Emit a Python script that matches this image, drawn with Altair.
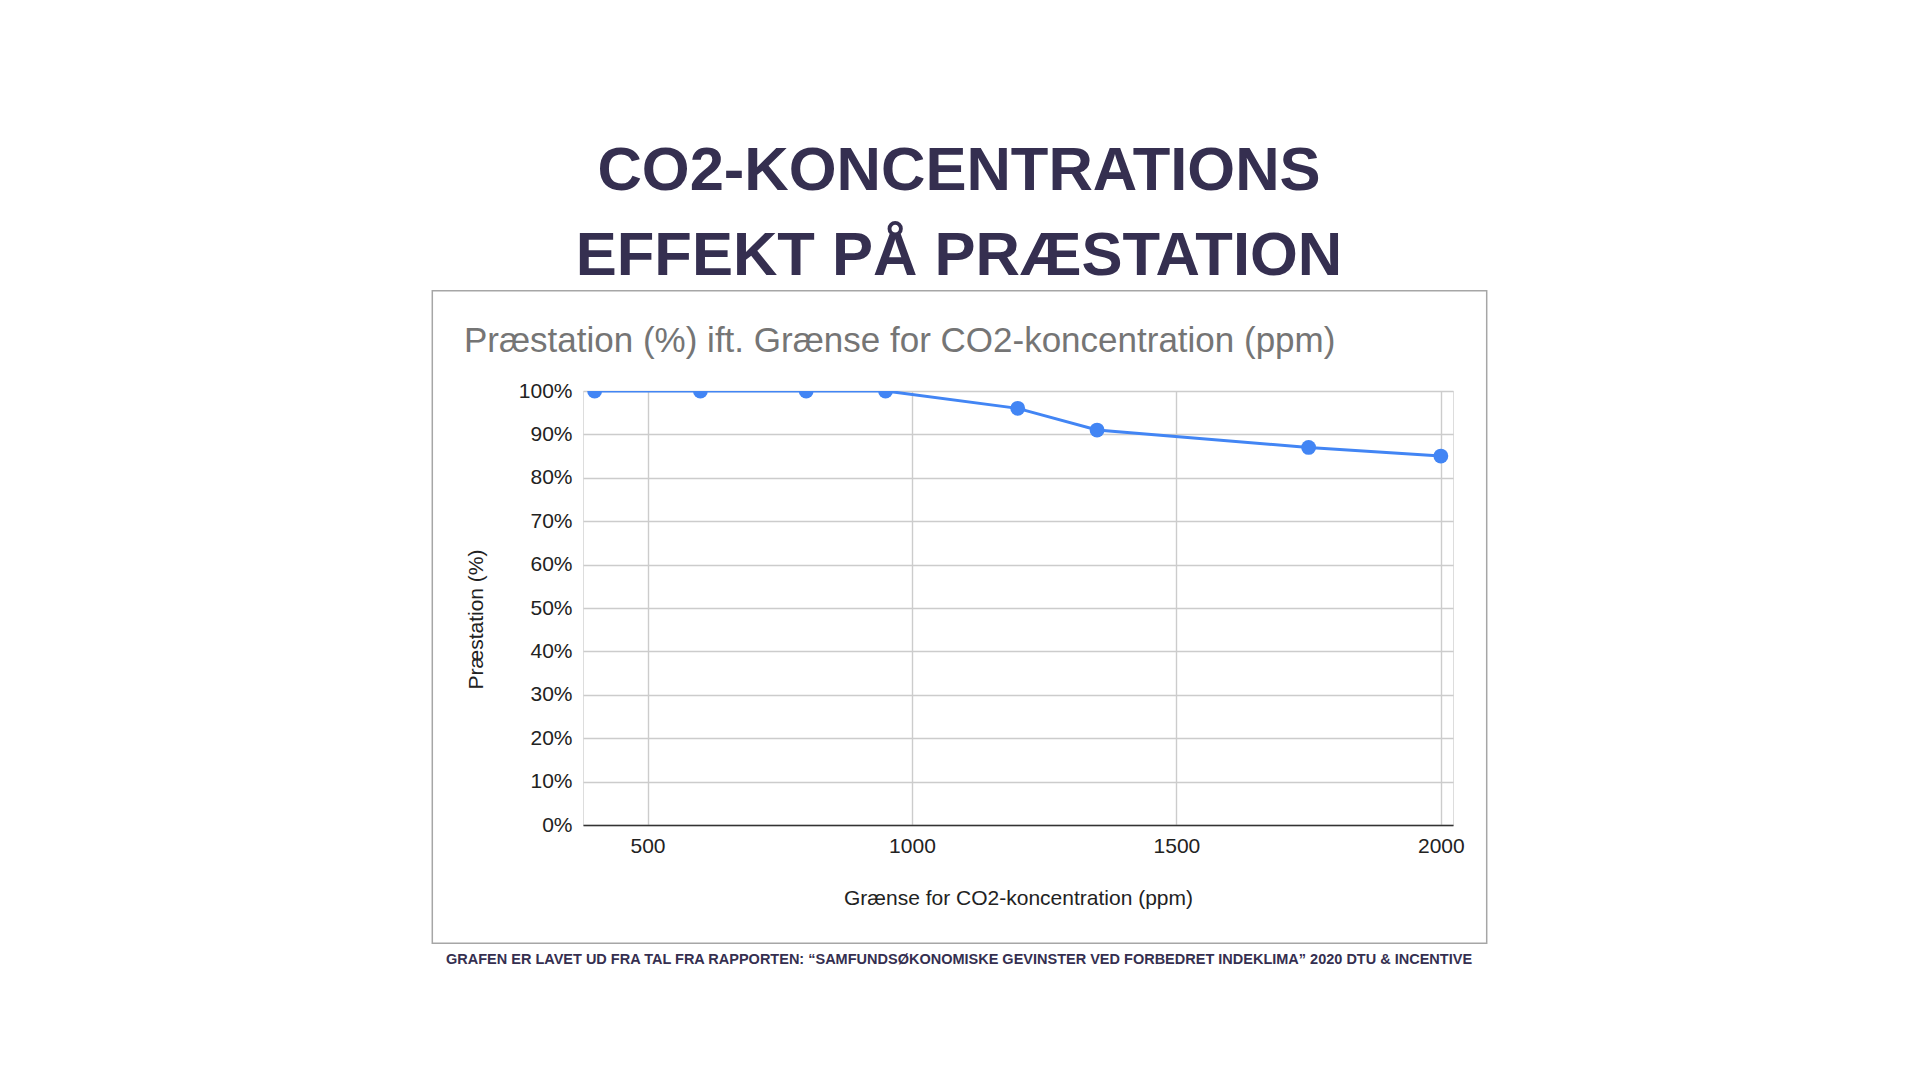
import altair as alt
import pandas as pd

# ---- data ----
co2_ppm = [400, 600, 800, 950, 1200, 1350, 1750, 2000]
performance = [1.00, 1.00, 1.00, 1.00, 0.96, 0.91, 0.87, 0.85]
x_ticks = [500, 1000, 1500, 2000]
y_ticks = [0.0, 0.1, 0.2, 0.3, 0.4, 0.5, 0.6, 0.7, 0.8, 0.9, 1.0]

title_lines = ["CO2-KONCENTRATIONS", "EFFEKT PÅ PRÆSTATION"]
chart_title = ["Præstation (%) ift. Grænse for CO2-koncentration (ppm)"]
x_title = "Grænse for CO2-koncentration (ppm)"
y_title = "Præstation (%)"
footer = ["GRAFEN ER LAVET UD FRA TAL FRA RAPPORTEN: \u201cSAMFUNDSØKONOMISKE GEVINSTER VED FORBEDRET INDEKLIMA\u201d 2020 DTU & INCENTIVE"]

df = pd.DataFrame({"ppm": co2_ppm, "perf": performance})

FONT = "Liberation Sans"
NAVY = "#352f50"
BLUE = "#4285F4"

x_enc = alt.X(
    "ppm:Q",
    scale=alt.Scale(domain=[378, 2023], nice=False, zero=False),
    axis=alt.Axis(
        values=x_ticks, format="d", title=x_title,
        labelFontSize=21, labelColor="#222222", labelFont=FONT,
        tickSize=0, labelPadding=10,
        titleFontSize=21, titleFont=FONT, titleFontWeight="normal",
        titleColor="#222222", titlePadding=31,
        domainColor="#333333", domainWidth=1.5,
        gridColor="#cccccc", gridWidth=1.4,
    ),
)
y_enc = alt.Y(
    "perf:Q",
    scale=alt.Scale(domain=[0, 1], nice=False),
    axis=alt.Axis(
        values=y_ticks, format=".0%", title=y_title,
        labelFontSize=21, labelColor="#222222", labelFont=FONT,
        tickSize=0, labelPadding=11, domain=False,
        titleFontSize=21, titleFont=FONT, titleFontWeight="normal",
        titleColor="#222222", titlePadding=32, titleY=228,
        gridColor="#cccccc", gridWidth=1.4,
    ),
)

box = alt.Chart(pd.DataFrame({"k": [0]})).mark_rect(
    fillOpacity=0, stroke="#a6a6a6", strokeWidth=1.5, clip=False
).encode(
    x=alt.value(-150.7), x2=alt.value(903.7),
    y=alt.value(-100.3), y2=alt.value(552.3),
)

line = alt.Chart(df).mark_line(color=BLUE, strokeWidth=3, clip=True).encode(x=x_enc, y=y_enc)
points = alt.Chart(df).mark_circle(color=BLUE, size=220, opacity=1, clip=True).encode(x="ppm:Q", y="perf:Q")

sub = alt.Chart(pd.DataFrame({"t": chart_title})).mark_text(
    align="left", baseline="alphabetic", font=FONT, fontSize=35, color="#757575"
).encode(x=alt.value(-119), y=alt.value(-39), text="t:N")

foot = alt.Chart(pd.DataFrame({"t": footer})).mark_text(
    align="left", baseline="alphabetic", font=FONT, fontSize=14.5,
    fontWeight="bold", color=NAVY
).encode(x=alt.value(-137), y=alt.value(573), text="t:N")

chart = alt.layer(box, line, points, sub, foot).properties(
    width=870,
    height=434,
    title=alt.TitleParams(
        text=title_lines, fontSize=61.5, font=FONT, fontWeight="bold",
        color=NAVY, anchor="middle", frame="group", dx=-59,
        lineHeight=85, offset=2,
    ),
    autosize=alt.AutoSizeParams(type="none"),
    padding={"left": 575, "top": 383, "right": 60, "bottom": 180},
).configure_view(stroke="transparent").configure(background="white")

chart.save("out.html", embed_options={"renderer": "svg", "actions": False})
